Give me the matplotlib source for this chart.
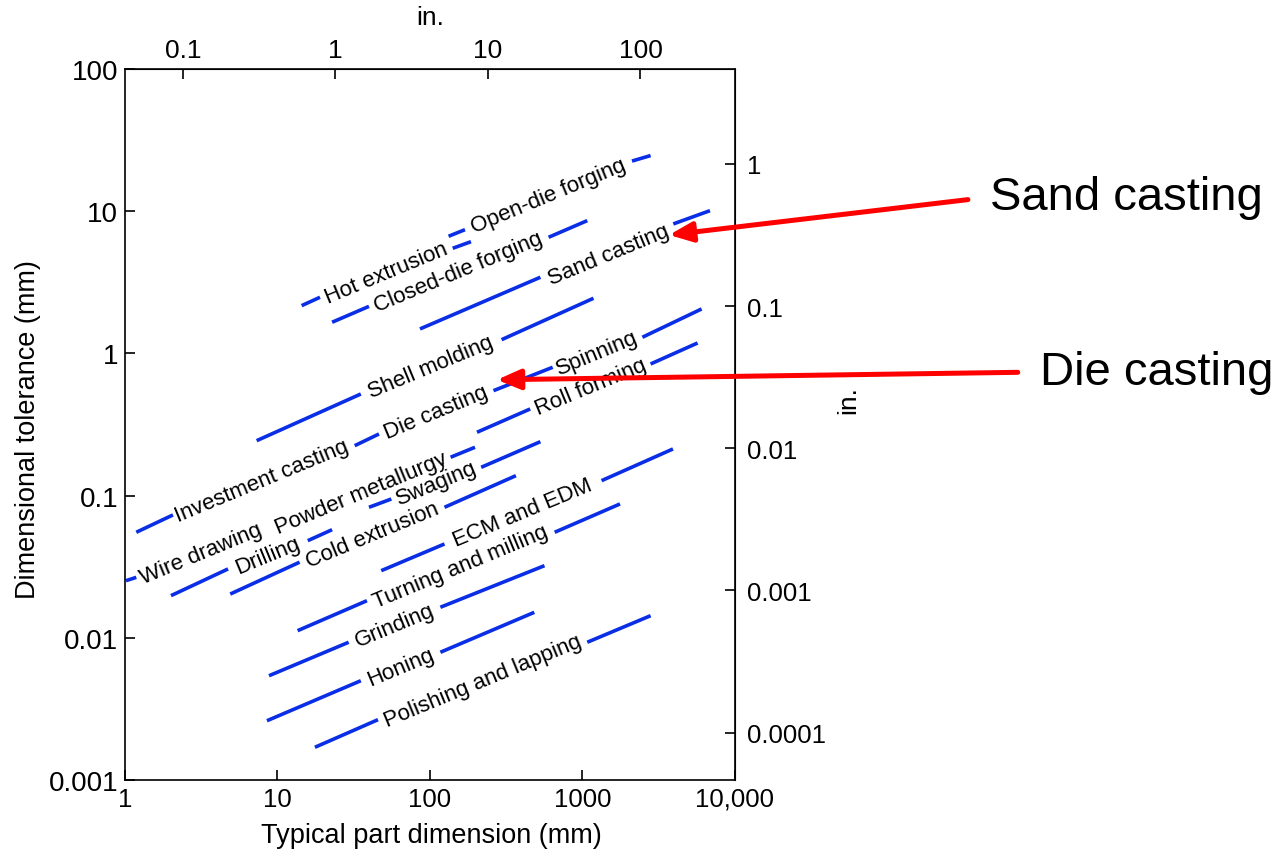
import numpy as np
import matplotlib.pyplot as plt
from matplotlib.ticker import NullLocator

plt.rcParams['font.family'] = ['Liberation Sans', 'DejaVu Sans']

# process labels, placed on their bands (part dimension mm, tolerance mm)
label_text = ['Hot extrusion', 'Open-die forging', 'Closed-die forging', 'Sand casting',
              'Shell molding', 'Investment casting', 'Die casting', 'Spinning', 'Roll forming',
              'Wire drawing', 'Powder metallurgy', 'Drilling', 'Cold extrusion', 'Swaging',
              'ECM and EDM', 'Turning and milling', 'Grinding', 'Honing', 'Polishing and lapping']
label_x = [51.8, 598, 154.5, 1485, 101.8, 7.91, 109.8, 1254, 1126,
           3.15, 35.5, 8.65, 41.7, 110, 407, 159.4, 58.5, 64.2, 221.6]
label_y = [3.69, 12.9, 3.75, 4.94, 0.804, 0.1267, 0.3846, 1.018, 0.585,
           0.0393, 0.1035, 0.0383, 0.053, 0.1222, 0.0762, 0.0317, 0.01234, 0.00628, 0.00497]

# visible pieces of the bands (gaps are where the labels sit)
seg_x0 = [14.4, 140.9, 132.4, 2111, 22.8, 599.6, 86.0, 3939, 7.30, 294.8,
          1.186, 32.1, 260.9, 2471, 203.3, 2797, 1.015, 136.5,
          2.003, 15.8, 4.90, 124.5, 39.8, 216.6, 47.9, 1334, 13.55, 657.3,
          8.80, 117, 8.53, 117, 17.6, 1075]
seg_y0 = [2.165, 5.48, 6.66, 22.5, 1.655, 6.55, 1.485, 8.13, 0.2432, 1.248,
          0.0552, 0.2243, 0.5465, 1.298, 0.2787, 0.842, 0.0252, 0.186,
          0.01978, 0.04817, 0.0203, 0.0827, 0.0827, 0.158, 0.02964, 0.1273, 0.01122, 0.0552,
          0.00541, 0.01639, 0.00261, 0.00791, 0.001698, 0.0093]
seg_x1 = [19.0, 185.7, 169.6, 2797, 39.8, 1075, 529.6, 6855, 35.2, 1181,
          2.064, 46.3, 637.8, 6039, 454, 5686, 1.186, 197.3,
          4.74, 22.8, 13.96, 365.9, 55.8, 529.6, 124.5, 3921, 38.6, 1762,
          29.3, 563.4, 35.2, 483, 45.6, 2797]
seg_y1 = [2.48, 6.10, 7.41, 24.6, 2.14, 8.58, 3.43, 10.08, 0.518, 2.44,
          0.0731, 0.2711, 0.7985, 2.052, 0.4064, 1.183, 0.0266, 0.2186,
          0.03048, 0.05755, 0.034, 0.138, 0.0946, 0.2393, 0.04567, 0.2127, 0.01823, 0.0873,
          0.0093, 0.03214, 0.00499, 0.0151, 0.002655, 0.0143]

x_ticks = [1, 10, 100, 1000, 10000]
x_ticklabels = ['1', '10', '100', '1000', '10,000']
y_ticks = [0.001, 0.01, 0.1, 1, 10, 100]
y_ticklabels = ['0.001', '0.01', '0.1', '1', '10', '100']
in_x_ticks = [0.1, 1, 10, 100]
in_x_ticklabels = ['0.1', '1', '10', '100']
in_y_ticks = [0.0001, 0.001, 0.01, 0.1, 1]
in_y_ticklabels = ['0.0001', '0.001', '0.01', '0.1', '1']

# red callouts: arrow tip in data, text anchor in figure pixels
callout_text = ['Sand casting', 'Die casting']
callout_tip_x = [3700, 275]
callout_tip_y = [6.8, 0.652]
callout_px = [990, 1040]
callout_py = [656, 481]

BLUE = '#0a2ee6'
ANGLE = 22.5
K_TOP = 24.0     # mm per inch as drawn on the top scale
K_RIGHT = 21.5   # ... and on the right scale

fig = plt.figure(figsize=(12.78, 8.54), dpi=100)
ax = fig.add_axes([0.0978, 0.0855, 0.4773, 0.8326])
ax.set_xscale('log')
ax.set_yscale('log')
ax.set_xlim(1, 10000)
ax.set_ylim(0.001, 100)

for x0, y0, x1, y1 in zip(seg_x0, seg_y0, seg_x1, seg_y1):
    ax.plot([x0, x1], [y0, y1], color=BLUE, lw=2.6, solid_capstyle='butt', zorder=2)

for t, x, y in zip(label_text, label_x, label_y):
    ax.text(x, y, t, rotation=ANGLE, rotation_mode='anchor', ha='center', va='center',
            fontsize=16, color='black', zorder=3)

ax.set_xticks(x_ticks, x_ticklabels)
ax.set_yticks(y_ticks, y_ticklabels)
ax.xaxis.set_minor_locator(NullLocator())
ax.yaxis.set_minor_locator(NullLocator())
ax.tick_params(direction='in', length=7, width=1.2, pad=5)
ax.tick_params(axis='x', labelsize=18.5)
ax.tick_params(axis='y', labelsize=20)
for s in ax.spines.values():
    s.set_linewidth(1.2)

top = ax.secondary_xaxis('top', functions=(lambda v: v / K_TOP, lambda v: v * K_TOP))
top.set_xticks(in_x_ticks, in_x_ticklabels)
top.xaxis.set_minor_locator(NullLocator())
top.tick_params(direction='in', length=7, width=1.2, labelsize=19, pad=5)

right = ax.secondary_yaxis('right', functions=(lambda v: v / K_RIGHT, lambda v: v * K_RIGHT))
right.set_yticks(in_y_ticks, in_y_ticklabels)
right.yaxis.set_minor_locator(NullLocator())
right.tick_params(direction='in', length=7, width=1.2, labelsize=18.5, pad=9)

ax.set_xlabel('Typical part dimension (mm)', fontsize=19.5)
ax.xaxis.label.set_va('center')
ax.xaxis.set_label_coords(0.503, -0.0774)
ax.set_ylabel('Dimensional tolerance (mm)', fontsize=19.5)
ax.yaxis.label.set_va('center')
ax.yaxis.set_label_coords(-0.159, 0.494)

# "in." titles of the two inch scales
fig.text(430 / 1278, 1 - 18 / 854, 'in.', fontsize=19, ha='center', va='center')
fig.text(848 / 1278, 1 - 400 / 854, 'in.', fontsize=19, ha='center', va='center', rotation=90)

for t, tx, ty, px, py in zip(callout_text, callout_tip_x, callout_tip_y, callout_px, callout_py):
    ax.annotate(t, xy=(tx, ty), xycoords='data', xytext=(px, py), textcoords='figure pixels',
                ha='left', va='center', fontsize=34, annotation_clip=False,
                arrowprops=dict(arrowstyle='-|>,head_length=0.7,head_width=0.3', mutation_scale=20,
                                lw=3.6, color='red', relpos=(0, 0.5), shrinkA=14, shrinkB=0),
                zorder=5)

fig.savefig('out.png', dpi=100)
